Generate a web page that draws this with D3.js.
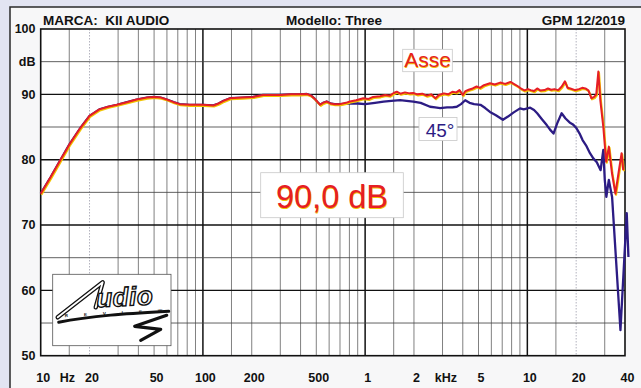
<!DOCTYPE html>
<html>
<head>
<meta charset="utf-8">
<script src="https://cdn.jsdelivr.net/npm/d3@7"></script>
<style>
  html, body { margin: 0; padding: 0; background: #e2e4f2; }
  svg { display: block; }
  text { font-family: "Liberation Sans", Arial, sans-serif; }
</style>
</head>
<body>
<div id="chart"></div>
<script>
// band shared by both curves (they sit on top of each other up to ~650 Hz)
const commonFreq = [10, 11.5, 13.2, 15, 17.5, 20, 23, 26, 29.5, 34, 39, 45, 50, 55, 60, 66, 72, 83, 100, 116, 125, 134, 147, 175, 204, 235, 300, 350, 400, 437, 465, 490, 510, 528, 550, 580, 610, 650];
const commonDb = [74.8, 77.3, 79.9, 82.3, 84.8, 86.7, 87.7, 88.1, 88.4, 88.8, 89.2, 89.5, 89.6, 89.5, 89.2, 88.8, 88.5, 88.4, 88.4, 88.3, 88.6, 89.0, 89.4, 89.5, 89.6, 89.9, 89.9, 90.0, 90.0, 90.05, 89.8, 89.3, 88.8, 88.4, 88.7, 88.9, 88.6, 88.5];

// on axis ("Asse")
const asseFreq = [700, 760, 806, 880, 973, 1050, 1120, 1236, 1330, 1420, 1500, 1566, 1650, 1760, 1880, 1982, 2100, 2250, 2400, 2550, 2710, 2850, 3060, 3250, 3450, 3650, 3816, 4000, 4150, 4350, 4600, 4867, 5100, 5400, 5884, 6300, 6800, 7300, 7870, 8400, 8800, 9100, 9600, 10100, 10500, 11000, 11500, 12000, 12760, 13400, 14000, 14700, 15500, 16300, 17050, 17700, 18400, 19700, 20800, 21800, 22800, 23800, 24800, 25800, 26600, 27400, 28200, 29400, 30600, 31800, 33200, 34900, 36500, 38100, 39000];
const asseDb = [88.5, 88.7, 88.9, 89.1, 89.4, 89.3, 89.6, 89.7, 89.9, 89.8, 90.2, 90.4, 90.1, 90.3, 90.15, 90.2, 90.0, 90.1, 89.8, 90.0, 89.4, 89.9, 90.15, 90.0, 90.4, 90.3, 90.65, 89.9, 90.5, 90.7, 90.9, 91.2, 91.0, 91.4, 91.7, 91.5, 91.8, 91.6, 91.9, 91.5, 91.2, 90.9, 90.6, 90.8, 90.65, 90.5, 90.9, 90.6, 90.65, 90.9, 90.7, 90.8, 90.65, 91.2, 92.0, 91.0, 90.9, 90.65, 90.8, 91.0, 90.9, 90.6, 89.4, 89.6, 90.0, 93.5, 89.0, 85.0, 79.7, 82.0, 78.0, 74.8, 78.0, 81.0, 78.4];

// 45 degrees off axis
const offFreq = [700, 800, 900, 1000, 1150, 1300, 1450, 1644, 1800, 1982, 2200, 2514, 2700, 2900, 3200, 3450, 3672, 3900, 4140, 4400, 4700, 5140, 5500, 5884, 6400, 7070, 7600, 8200, 9016, 9500, 10415, 11000, 11500, 12300, 13170, 13800, 14500, 15300, 16270, 17200, 18220, 19100, 20100, 21000, 21900, 23000, 24330, 25500, 26800, 28300, 29400, 30000, 30700, 31800, 33300, 37500, 41000, 42000];
const offDb = [88.5, 88.6, 88.6, 88.5, 88.7, 88.9, 89.0, 89.1, 89.0, 88.9, 88.7, 88.1, 88.0, 87.9, 88.0, 88.0, 88.1, 88.5, 89.1, 88.7, 88.5, 88.4, 87.9, 87.3, 86.8, 86.1, 86.6, 87.2, 87.85, 87.7, 87.95, 87.6, 87.1, 86.2, 85.3, 84.6, 84.0, 85.6, 87.1, 86.3, 85.7, 85.4, 84.8, 84.0, 83.0, 82.2, 81.0, 80.2, 79.6, 78.4, 81.5, 77.0, 74.3, 76.9, 74.3, 53.9, 71.8, 65.1];

const xTickFreqs = [10, 20, 50, 100, 200, 500, 1000, 2000, 5000, 10000, 20000, 40000];
const xTickLabels = ['10', '20', '50', '100', '200', '500', '1', '2', '5', '10', '20', '40'];
const yTickValues = [100, 95, 90, 80, 70, 60, 50];
const yTickLabels = ['100', 'dB', '90', '80', '70', '60', '50'];

const width = 641, height = 388;
const red = '#e61e25', yellow = '#f2c400', navy = '#2c1c84';

const x = d3.scaleLog().domain([10, 40000]).range([40.7, 625]);
const y = d3.scaleLinear().domain([50, 100]).range([355.7, 29]);

const svg = d3.select('#chart').append('svg')
  .attr('width', width)
  .attr('height', height);

svg.append('rect')
  .attr('width', width).attr('height', height)
  .attr('fill', '#e2e4f2');
svg.append('rect')
  .attr('x', 10).attr('y', 7)
  .attr('width', width + 10).attr('height', height)
  .attr('fill', '#f7f7f8')
  .attr('stroke', '#2a2a2a')
  .attr('stroke-width', 1.5);

// plot area
svg.append('rect')
  .attr('x', x(10)).attr('y', y(100))
  .attr('width', x(40000) - x(10)).attr('height', y(50) - y(100))
  .attr('fill', '#ffffff');

// grid
const decades = [10, 100, 1000, 10000];
const steps = [1.5, 2, 3, 4, 5, 6, 7, 8, 9];
const minorFreqs = [];
decades.forEach(d => steps.forEach(s => { if (d * s < 40000) minorFreqs.push(d * s); }));
const dottedFreqs = [20, 20000];

const grid = svg.append('g').classed('grid', true);
grid.selectAll('line.vminor')
  .data(minorFreqs)
  .join('line')
    .classed('vminor', true)
    .attr('x1', d => x(d)).attr('x2', d => x(d))
    .attr('y1', y(100)).attr('y2', y(50))
    .attr('stroke', d => dottedFreqs.includes(d) ? '#9a9aa8' : '#555')
    .attr('stroke-dasharray', d => dottedFreqs.includes(d) ? '1.5,1.5' : null)
    .attr('stroke-width', 0.75);
grid.selectAll('line.vmajor')
  .data([100, 1000, 10000])
  .join('line')
    .classed('vmajor', true)
    .attr('x1', d => x(d)).attr('x2', d => x(d))
    .attr('y1', y(100)).attr('y2', y(50))
    .attr('stroke', '#111')
    .attr('stroke-width', 1.5);
grid.selectAll('line.hminor')
  .data([55, 65, 75, 85, 95])
  .join('line')
    .classed('hminor', true)
    .attr('x1', x(10)).attr('x2', x(40000))
    .attr('y1', d => y(d)).attr('y2', d => y(d))
    .attr('stroke', '#444')
    .attr('stroke-width', 0.85);
grid.selectAll('line.hmajor')
  .data([60, 70, 80, 90])
  .join('line')
    .classed('hmajor', true)
    .attr('x1', x(10)).attr('x2', x(40000))
    .attr('y1', d => y(d)).attr('y2', d => y(d))
    .attr('stroke', '#111')
    .attr('stroke-width', 1.4);

svg.append('rect')
  .attr('x', x(10)).attr('y', y(100))
  .attr('width', x(40000) - x(10)).attr('height', y(50) - y(100))
  .attr('fill', 'none')
  .attr('stroke', '#111')
  .attr('stroke-width', 1.6);

// header
svg.append('text')
  .attr('x', 43).attr('y', 24.5)
  .attr('font-size', 13.5).attr('font-weight', 700).attr('fill', '#111')
  .style('white-space', 'pre')
  .text('MARCA:  KII AUDIO');
svg.append('text')
  .attr('x', 334).attr('y', 24.5)
  .attr('text-anchor', 'middle')
  .attr('font-size', 13.5).attr('font-weight', 700).attr('fill', '#111')
  .text('Modello: Three');
svg.append('text')
  .attr('x', 625).attr('y', 24.5)
  .attr('text-anchor', 'end')
  .attr('font-size', 13.5).attr('font-weight', 700).attr('fill', '#111')
  .text('GPM 12/2019');

// axis labels
svg.append('g').selectAll('text')
  .data(yTickValues)
  .join('text')
    .attr('x', 35.5)
    .attr('y', d => y(d) + 4.3)
    .attr('text-anchor', 'end')
    .attr('font-size', 12.5).attr('font-weight', 700).attr('fill', '#111')
    .text((d, i) => yTickLabels[i]);

svg.append('g').selectAll('text')
  .data(xTickFreqs)
  .join('text')
    .attr('x', d => x(d) + 2.5)
    .attr('y', 382)
    .attr('text-anchor', 'middle')
    .attr('font-size', 12.5).attr('font-weight', 700).attr('fill', '#111')
    .text((d, i) => xTickLabels[i]);
svg.append('text')
  .attr('x', x(14.6)).attr('y', 382)
  .attr('text-anchor', 'middle')
  .attr('font-size', 12.5).attr('font-weight', 700).attr('fill', '#111')
  .text('Hz');
svg.append('text')
  .attr('x', x(3150)).attr('y', 382)
  .attr('text-anchor', 'middle')
  .attr('font-size', 12.5).attr('font-weight', 700).attr('fill', '#111')
  .text('kHz');

// curves
const asse = commonFreq.map((f, i) => [f, commonDb[i]])
  .concat(asseFreq.map((f, i) => [f, asseDb[i]]));
const off = commonFreq.map((f, i) => [f, commonDb[i]])
  .concat(offFreq.map((f, i) => [f, offDb[i]]));

const line = d3.line()
  .x(d => x(d[0]))
  .y(d => y(d[1]));

svg.append('path')
  .datum(off)
  .attr('d', line)
  .attr('fill', 'none')
  .attr('stroke', navy)
  .attr('stroke-width', 2.3)
  .attr('stroke-linejoin', 'round');
svg.append('path')
  .datum(asse)
  .attr('d', line)
  .attr('transform', 'translate(0.7,1.1)')
  .attr('fill', 'none')
  .attr('stroke', yellow)
  .attr('stroke-width', 2)
  .attr('stroke-linejoin', 'round');
svg.append('path')
  .datum(asse)
  .attr('d', line)
  .attr('fill', 'none')
  .attr('stroke', red)
  .attr('stroke-width', 2)
  .attr('stroke-linejoin', 'round');

// curve labels
function boxLabel(bx, by, bw, bh, tx, ty, size, color, txt, shadow) {
  svg.append('rect')
    .attr('x', bx).attr('y', by).attr('width', bw).attr('height', bh)
    .attr('fill', '#fff')
    .attr('stroke', '#c8c8c8')
    .attr('stroke-width', 0.8);
  if (shadow) {
    svg.append('text')
      .attr('x', tx + 0.6).attr('y', ty + 0.8)
      .attr('text-anchor', 'middle')
      .attr('font-size', size).attr('fill', shadow)
      .text(txt);
  }
  svg.append('text')
    .attr('x', tx).attr('y', ty)
    .attr('text-anchor', 'middle')
    .attr('font-size', size).attr('fill', color)
    .text(txt);
}
boxLabel(402.7, 49.3, 49.6, 22.4, 427.5, 66.8, 21, red, 'Asse', yellow);
boxLabel(419, 117.5, 38, 23, 440, 136.7, 19, navy, '45°', null);
boxLabel(260.7, 172.7, 142.6, 45, 332, 208.3, 32.5, red, '90,0 dB', yellow);

// magazine logo
const logo = svg.append('g').attr('transform', 'translate(52.7,274.3)');
logo.append('rect')
  .attr('width', 118.3).attr('height', 71.4)
  .attr('fill', '#fff')
  .attr('stroke', '#555')
  .attr('stroke-width', 0.8);
logo.append('path')
  .attr('d', 'M6,48 C40,41 80,39 116,37')
  .attr('fill', 'none')
  .attr('stroke', '#111')
  .attr('stroke-width', 3)
  .attr('stroke-linecap', 'round');
logo.append('path')
  .attr('d', 'M114,41 L82,52 L108,55 L88,66')
  .attr('fill', 'none')
  .attr('stroke', '#111')
  .attr('stroke-width', 3.2)
  .attr('stroke-linejoin', 'round')
  .attr('stroke-linecap', 'round');
const aStroke = 'M5,43 L50,8 L43,33';
logo.append('path')
  .attr('d', aStroke)
  .attr('fill', 'none')
  .attr('stroke', '#111')
  .attr('stroke-width', 4.4)
  .attr('stroke-linejoin', 'round')
  .attr('stroke-linecap', 'round');
logo.append('path')
  .attr('d', aStroke)
  .attr('fill', 'none')
  .attr('stroke', '#fff')
  .attr('stroke-width', 1.8)
  .attr('stroke-linejoin', 'round')
  .attr('stroke-linecap', 'round');
logo.append('text')
  .attr('x', 44).attr('y', 33)
  .attr('font-family', '"DejaVu Serif", serif')
  .attr('font-style', 'italic')
  .attr('font-weight', 700)
  .attr('font-size', 26)
  .attr('letter-spacing', 0.5)
  .attr('fill', '#fff')
  .attr('stroke', '#111')
  .attr('stroke-width', 1.4)
  .attr('transform', 'rotate(-3,44,33)')
  .text('udio');
logo.append('text')
  .attr('x', 12).attr('y', 43)
  .attr('font-size', 4.5)
  .attr('font-weight', 700)
  .attr('letter-spacing', 16)
  .attr('fill', '#111')
  .attr('transform', 'rotate(-3,12,43)')
  .text('REVIEW');
</script>
</body>
</html>
